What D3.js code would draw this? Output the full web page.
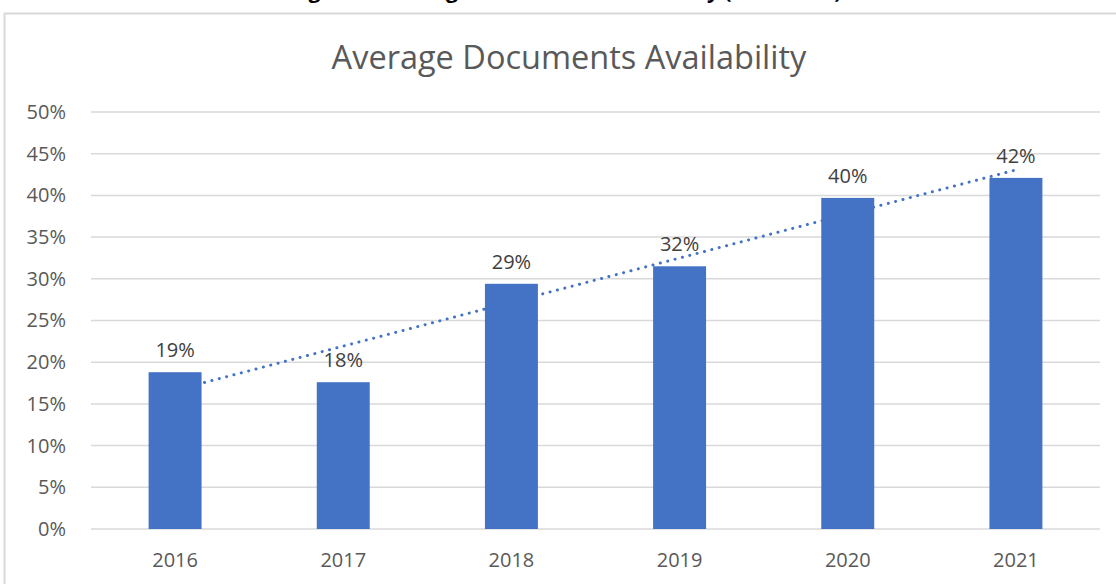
<!DOCTYPE html>
<html>
<head>
<meta charset="utf-8">
<script src="https://cdn.jsdelivr.net/npm/d3@7"></script>
<style>
  html, body { margin: 0; padding: 0; background: #fff; }
  svg { display: block; font-family: "Open Sans", sans-serif; }
</style>
</head>
<body>
<svg id="chart" width="1116" height="584"></svg>
<script>
// D3 v7
const years = ['2016', '2017', '2018', '2019', '2020', '2021'];
const availability = [0.188, 0.176, 0.294, 0.315, 0.397, 0.421];
const valueLabels = ['19%', '18%', '29%', '32%', '40%', '42%'];
const yTicks = [0, 0.05, 0.10, 0.15, 0.20, 0.25, 0.30, 0.35, 0.40, 0.45, 0.50];

const chartTitle = 'Average Documents Availability';
const figureCaption = 'Figure 5: Average Documents Availability (2016-2021)';

const svg = d3.select('#chart');
const margin = {top: 112, right: 16, bottom: 55, left: 91};
const W = +svg.attr('width'), H = +svg.attr('height');

const x = d3.scaleBand().domain(years).range([margin.left, W - margin.right]).paddingInner(0.685).paddingOuter(0.3425);
const y = d3.scaleLinear().domain([0, 0.5]).range([H - margin.bottom, margin.top]);

// caption above the chart box, cut off at the top of the picture
svg.append('text')
  .attr('x', 566).attr('y', -2)
  .attr('text-anchor', 'middle')
  .attr('font-weight', 'bold')
  .attr('font-size', 21)
  .attr('fill', '#000')
  .text(figureCaption);

// chart frame
svg.append('path')
  .attr('d', `M4.5,${H} V13.5 H${W}`)
  .attr('fill', 'none')
  .attr('stroke', '#d9d9d9')
  .attr('stroke-width', 2);

svg.append('text')
  .attr('x', 569).attr('y', 69)
  .attr('text-anchor', 'middle')
  .attr('font-size', 32.5)
  .attr('fill', '#595959')
  .text(chartTitle);

// gridlines
svg.append('g').selectAll('line').data(yTicks).join('line')
  .attr('x1', margin.left).attr('x2', W - margin.right)
  .attr('y1', d => y(d)).attr('y2', d => y(d))
  .attr('stroke', '#d9d9d9').attr('stroke-width', 1.5);

// y axis labels
const yAxis = svg.append('g')
  .attr('transform', `translate(${margin.left - 25},0)`)
  .call(d3.axisLeft(y).tickValues(yTicks).tickSize(0).tickPadding(0).tickFormat(d3.format('.0%')));
yAxis.select('.domain').remove();
yAxis.selectAll('text').attr('font-size', 20).attr('font-family', '"Open Sans", sans-serif').attr('fill', '#595959');

// x axis labels
const xAxis = svg.append('g')
  .attr('transform', `translate(0,${y(0)})`)
  .call(d3.axisBottom(x).tickSize(0).tickPadding(24));
xAxis.select('.domain').remove();
xAxis.selectAll('text').attr('font-size', 20).attr('font-family', '"Open Sans", sans-serif').attr('fill', '#595959');

// linear trendline (least squares over category index)
const n = availability.length;
const xs = d3.range(1, n + 1);
const mx = d3.mean(xs), my = d3.mean(availability);
const slope = d3.sum(xs, (v, i) => (v - mx) * (availability[i] - my)) / d3.sum(xs, v => (v - mx) ** 2);
const intercept = my - slope * mx;
const cx = i => x(years[i]) + x.bandwidth() / 2;
svg.append('line')
  .attr('x1', cx(0)).attr('y1', y(intercept + slope * 1))
  .attr('x2', cx(n - 1)).attr('y2', y(intercept + slope * n))
  .attr('stroke', '#4472c4')
  .attr('stroke-width', 3)
  .attr('stroke-linecap', 'round')
  .attr('stroke-dasharray', '0.1 7.5');

// bars
svg.append('g').selectAll('rect').data(availability).join('rect')
  .attr('x', (d, i) => x(years[i]))
  .attr('y', d => y(d))
  .attr('width', x.bandwidth())
  .attr('height', d => y(0) - y(d))
  .attr('fill', '#4472c4');

// data labels
svg.append('g').selectAll('text').data(availability).join('text')
  .attr('x', (d, i) => cx(i))
  .attr('y', d => y(d) - 15)
  .attr('text-anchor', 'middle')
  .attr('font-size', 20)
  .attr('fill', '#404040')
  .text((d, i) => valueLabels[i]);
</script>
</body>
</html>
